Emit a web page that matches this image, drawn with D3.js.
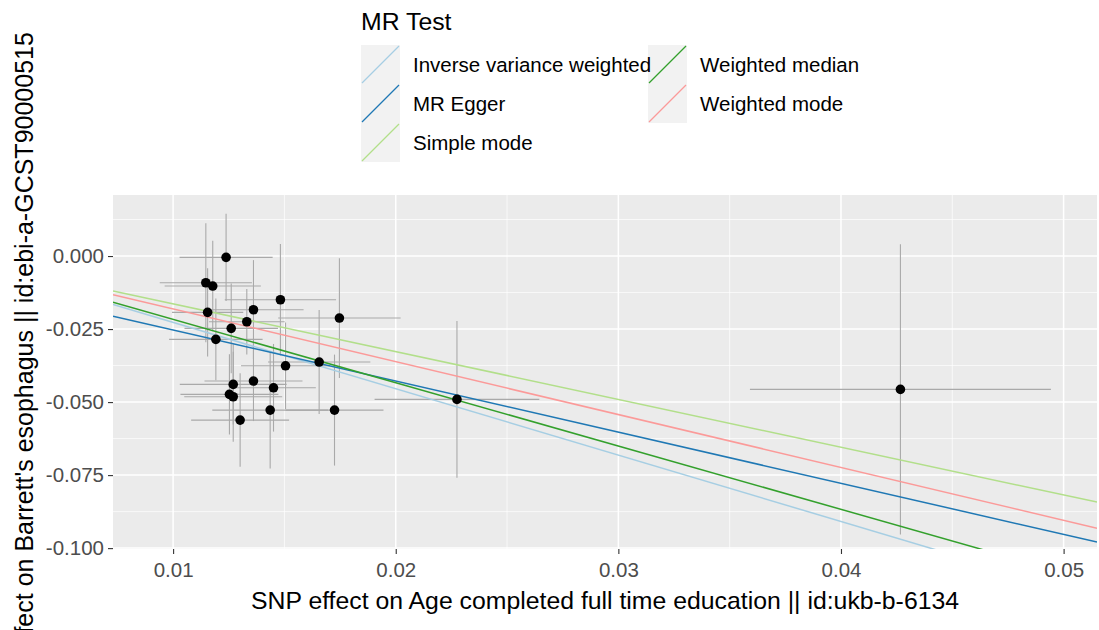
<!DOCTYPE html>
<html>
<head>
<meta charset="utf-8">
<script src="https://cdn.jsdelivr.net/npm/d3@7"></script>
<style>
  body { margin: 0; background: #fff; }
  svg { font-family: "Liberation Sans", Arial, sans-serif; }
</style>
</head>
<body>
<div id="chart-area"></div>
<script>
// SNP effects (exposure on x, outcome on y) and their standard errors
var snpX = [0.01238, 0.01147, 0.01178, 0.01482, 0.01361, 0.01155, 0.01331, 0.01261, 0.01747, 0.01192, 0.01505,
  0.01656, 0.0127, 0.01361, 0.01451, 0.01253, 0.0127, 0.01436, 0.01725, 0.01301, 0.02275, 0.04267];
var snpY = [-0.00045, -0.00914, -0.01027, -0.01497, -0.01839, -0.01928, -0.0225, -0.02476, -0.02123, -0.02853, -0.03757,
  -0.0363, -0.04394, -0.0428, -0.0451, -0.04736, -0.04818, -0.05274, -0.05274, -0.05616, -0.04908, -0.04565];
var seX = [0.00209, 0.00207, 0.00216, 0.0025, 0.00225, 0.0016, 0.0017, 0.0021, 0.00275, 0.0021, 0.002,
  0.0023, 0.0024, 0.0022, 0.0019, 0.0022, 0.0022, 0.0026, 0.0022, 0.0022, 0.0037, 0.00676];
var seY = [0.0149, 0.0204, 0.0155, 0.0191, 0.017, 0.0151, 0.0112, 0.0154, 0.0205, 0.014, 0.0148,
  0.0178, 0.0137, 0.0137, 0.015, 0.0137, 0.0154, 0.02, 0.019, 0.016, 0.0268, 0.0497];

// MR methods
var methods = ['Inverse variance weighted', 'MR Egger', 'Simple mode', 'Weighted median', 'Weighted mode'];
var methodColors = ['#a6cee3', '#1f78b4', '#b2df8a', '#33a02c', '#fb9a99'];
var slopes = [-2.272, -1.75, -1.636, -2.168, -1.809];
var intercepts = [0, -0.0078, 0, 0, 0];

var xTicks = [0.01, 0.02, 0.03, 0.04, 0.05];
var xMinor = [0.015, 0.025, 0.035, 0.045];
var yTicks = [0, -0.025, -0.05, -0.075, -0.1];
var yMinor = [0.0125, -0.0125, -0.0375, -0.0625, -0.0875];

var W = 1099, H = 630;
var panel = {left: 113, right: 1097, top: 195, bottom: 549};

var svg = d3.select('#chart-area')
  .append('svg')
  .attr('width', W)
  .attr('height', H);

var x = d3.scaleLinear().domain([0.0073, 0.0515]).range([panel.left, panel.right]);
var y = d3.scaleLinear().domain([-0.1003, 0.0209]).range([panel.bottom, panel.top]);

// panel background
svg.append('rect')
  .attr('x', panel.left).attr('y', panel.top)
  .attr('width', panel.right - panel.left)
  .attr('height', panel.bottom - panel.top)
  .attr('fill', '#ebebeb');

svg.append('clipPath').attr('id', 'clip')
  .append('rect')
  .attr('x', panel.left).attr('y', panel.top)
  .attr('width', panel.right - panel.left)
  .attr('height', panel.bottom - panel.top);

// grid lines
var grid = svg.append('g').attr('stroke', '#fff');
grid.selectAll('.xminor').data(xMinor).enter().append('line')
  .attr('x1', x).attr('x2', x).attr('y1', panel.top).attr('y2', panel.bottom)
  .attr('stroke-width', 0.7);
grid.selectAll('.yminor').data(yMinor).enter().append('line')
  .attr('y1', y).attr('y2', y).attr('x1', panel.left).attr('x2', panel.right)
  .attr('stroke-width', 0.7);
grid.selectAll('.xmajor').data(xTicks).enter().append('line')
  .attr('x1', x).attr('x2', x).attr('y1', panel.top).attr('y2', panel.bottom)
  .attr('stroke-width', 1.5);
grid.selectAll('.ymajor').data(yTicks).enter().append('line')
  .attr('y1', y).attr('y2', y).attr('x1', panel.left).attr('x2', panel.right)
  .attr('stroke-width', 1.5);

var plot = svg.append('g').attr('clip-path', 'url(#clip)');

// error bars
plot.selectAll('.ebv').data(snpX).enter().append('line')
  .attr('x1', function (d) { return x(d); })
  .attr('x2', function (d) { return x(d); })
  .attr('y1', function (d, i) { return y(snpY[i] - seY[i]); })
  .attr('y2', function (d, i) { return y(snpY[i] + seY[i]); })
  .attr('stroke', '#a9a9a9').attr('stroke-width', 1.1);
plot.selectAll('.ebh').data(snpX).enter().append('line')
  .attr('x1', function (d, i) { return x(d - seX[i]); })
  .attr('x2', function (d, i) { return x(d + seX[i]); })
  .attr('y1', function (d, i) { return y(snpY[i]); })
  .attr('y2', function (d, i) { return y(snpY[i]); })
  .attr('stroke', '#a9a9a9').attr('stroke-width', 1.1);

// regression lines
var xd = x.domain();
plot.selectAll('.mr').data(methods).enter().append('line')
  .attr('x1', x(xd[0]))
  .attr('x2', x(xd[1]))
  .attr('y1', function (d, i) { return y(intercepts[i] + slopes[i] * xd[0]); })
  .attr('y2', function (d, i) { return y(intercepts[i] + slopes[i] * xd[1]); })
  .attr('stroke', function (d, i) { return methodColors[i]; })
  .attr('stroke-width', 1.5);

// points
plot.selectAll('circle').data(snpX).enter().append('circle')
  .attr('cx', function (d) { return x(d); })
  .attr('cy', function (d, i) { return y(snpY[i]); })
  .attr('r', 4.8)
  .attr('fill', '#000');

// axes
var xAxis = svg.append('g')
  .attr('transform', 'translate(0,' + panel.bottom + ')')
  .call(d3.axisBottom(x).tickValues(xTicks).tickSize(5).tickPadding(4)
    .tickFormat(function (d) { return d.toFixed(2); }));
var yAxis = svg.append('g')
  .attr('transform', 'translate(' + panel.left + ',0)')
  .call(d3.axisLeft(y).tickValues(yTicks).tickSize(5).tickPadding(4)
    .tickFormat(function (d) { return d.toFixed(3); }));
[xAxis, yAxis].forEach(function (a) {
  a.select('.domain').remove();
  a.selectAll('line').attr('stroke', '#333').attr('stroke-width', 1.1);
  a.selectAll('text').attr('fill', '#4d4d4d').attr('font-size', '20.5px')
    .attr('font-family', '"Liberation Sans", Arial, sans-serif');
});
xAxis.selectAll('text').attr('dy', '0.92em');

// axis titles
svg.append('text')
  .attr('x', (panel.left + panel.right) / 2)
  .attr('y', 609)
  .attr('text-anchor', 'middle')
  .attr('font-size', '24.8px')
  .attr('fill', '#000')
  .text('SNP effect on Age completed full time education || id:ukb-b-6134');

svg.append('text')
  .attr('transform', 'translate(33,' + ((panel.top + panel.bottom) / 2) + ') rotate(-90)')
  .attr('text-anchor', 'middle')
  .attr('font-size', '25px')
  .attr('fill', '#000')
  .text('SNP effect on Barrett\'s esophagus || id:ebi-a-GCST90000515');

// legend
var legend = svg.append('g');
legend.append('text')
  .attr('x', 361).attr('y', 30)
  .attr('font-size', '24.8px')
  .text('MR Test');

var keyW = 39, keyH = 39, keyTop = 45;
var colX = [361, 648];
function keyPos(i) {
  var col = i < 3 ? 0 : 1;
  var row = i < 3 ? i : i - 3;
  return [colX[col], keyTop + row * keyH];
}
// keys first, labels on top so the long label stays readable
methods.forEach(function (m, i) {
  var p = keyPos(i);
  legend.append('rect')
    .attr('x', p[0]).attr('y', p[1])
    .attr('width', keyW).attr('height', keyH)
    .attr('fill', '#f2f2f2');
  legend.append('line')
    .attr('x1', p[0] + 1).attr('y1', p[1] + keyH - 1)
    .attr('x2', p[0] + keyW - 1).attr('y2', p[1] + 1)
    .attr('stroke', methodColors[i]).attr('stroke-width', 1.2);
});
methods.forEach(function (m, i) {
  var p = keyPos(i);
  legend.append('text')
    .attr('x', p[0] + keyW + 13)
    .attr('y', p[1] + keyH / 2)
    .attr('dy', '0.36em')
    .attr('font-size', '20.5px')
    .text(m);
});
</script>
</body>
</html>
